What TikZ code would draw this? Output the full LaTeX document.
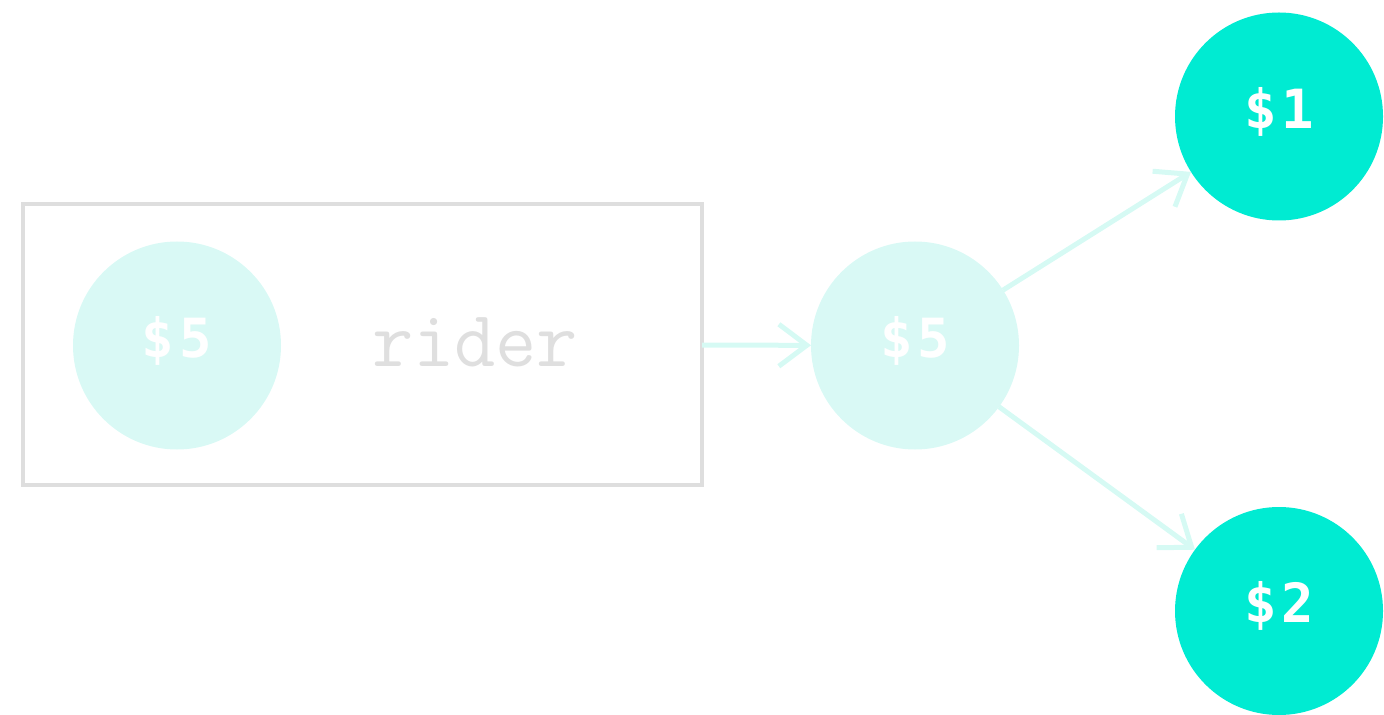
\documentclass[tikz,border=0pt]{standalone}
\usepackage{fontspec}
\newfontfamily\coinfont{DejaVu Sans Mono}
\usetikzlibrary{arrows.meta}
\definecolor{mint}{HTML}{D9F9F5}
\definecolor{mintline}{HTML}{D6FAF4}
\definecolor{teal}{HTML}{00EBD2}
\definecolor{frame}{HTML}{DEDEDE}
\definecolor{label}{HTML}{DFDFDF}
\newcommand\amount[1]{\$\kern2.5pt#1}
\tikzset{
  coin/.style={circle, minimum size=104pt, inner sep=0pt, outer sep=0pt,
    text depth=9pt,
    font=\coinfont\bfseries\fontsize{27}{27}\selectfont, text=white},
  paid/.style={coin, fill=mint},
  payout/.style={coin, fill=teal},
  flow/.style={draw=mintline, line width=2.5pt,
    -{Straight Barb[length=14pt,width=21pt,line cap=butt,line join=miter]}},
  group/.style={draw=frame, line width=1.75pt, inner sep=0pt, outer sep=0pt,
    minimum width=339.5pt, minimum height=140.5pt},
}
\begin{document}
\begin{tikzpicture}[x=0.5pt, y=-0.5pt]
  \useasboundingbox (0,0) rectangle (1384,715);
  % grouped input: the rider's coin
  \node[group] (box) at (362.5,344.5) {};
  \node[paid] (in) at (177,345.5) {\amount{5}};
  \node[anchor=base, text=label, font=\ttfamily\fontsize{40}{40}\selectfont] (rider) at (475,367) {rider};
  % pooled amount and its split
  \node[paid] (pool) at (915,345.5) {\amount{5}};
  \node[payout] (one) at (1279,116.5) {\amount{1}};
  \node[payout] (two) at (1279,611) {\amount{2}};
  \draw[flow] (box) -- (pool);
  \draw[flow] (pool) -- (one);
  \draw[flow] (pool) -- (two);
\end{tikzpicture}
\end{document}
